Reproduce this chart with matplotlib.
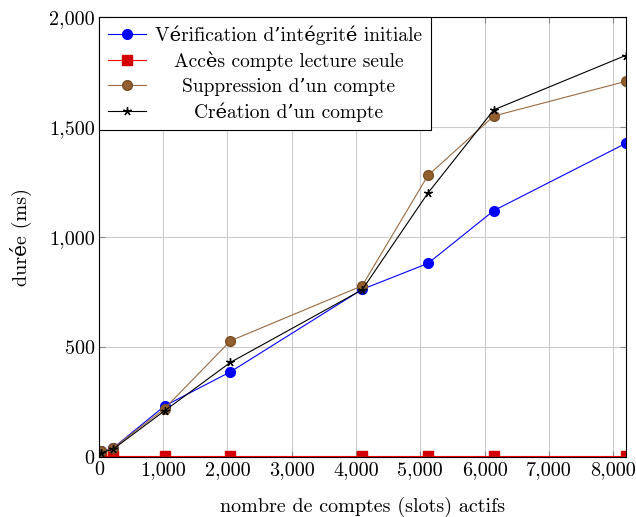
import matplotlib
matplotlib.use('Agg')
import matplotlib.pyplot as plt
from matplotlib.ticker import FuncFormatter

plt.rcParams['font.family'] = ['cmr10', 'DejaVu Serif']
plt.rcParams['axes.formatter.use_mathtext'] = True
plt.rcParams['mathtext.fontset'] = 'cm'

comptes = [32, 220, 1024, 2048, 4096, 5120, 6144, 8192]
verif = [25, 40, 232, 387, 762, 880, 1120, 1425]
lecture = [5, 5, 5, 5, 5, 5, 5, 5]
suppression = [25, 40, 220, 528, 778, 1280, 1550, 1707]
creation = [20, 35, 210, 430, 760, 1200, 1578, 1825]

noms = ["Vérification d’intégrité initiale", "Accès compte lecture seule",
        "Suppression d’un compte", "Création d’un compte"]

fig = plt.figure(figsize=(6.36, 5.17), dpi=100)
ax = fig.add_axes([0.1553, 0.1161, 0.8282, 0.8510])

ax.plot(comptes, verif, color='blue', lw=0.8, marker='o', ms=7, mfc='blue', mec='blue', label=noms[0])
ax.plot(comptes, lecture, color='red', lw=0.8, marker='s', ms=6.5, mfc='#d40000', mec='#d40000', label=noms[1])
ax.plot(comptes, suppression, color='#9a6a40', lw=0.8, marker='o', ms=7, mfc='#91602e', mec='#7a4f25', label=noms[2])
ax.plot(comptes, creation, color='black', lw=0.8, marker=(5, 2, 0), ms=6, mec='black', label=noms[3])

ax.set_xlim(0, 8192)
ax.set_ylim(0, 2000)
ax.set_xticks(range(0, 8001, 1000))
ax.set_yticks(range(0, 2001, 500))
fmt = FuncFormatter(lambda v, p: f'{int(v):,}')
ax.xaxis.set_major_formatter(fmt)
ax.yaxis.set_major_formatter(fmt)
ax.grid(True, color='#cccccc', lw=0.8)
ax.set_axisbelow(True)
ax.tick_params(direction='in', top=True, right=True, labelsize=14.5, length=4, color='#888888', pad=3)
for s in ax.spines.values():
    s.set_color('black')
    s.set_linewidth(0.8)

ax.set_xlabel('nombre de comptes (slots) actifs', fontsize=14.5, labelpad=13)
ax.set_ylabel('durée (ms)', fontsize=14.5, labelpad=12)

leg = ax.legend(loc='upper left', fontsize=14, frameon=True, fancybox=False, edgecolor='black',
                framealpha=1, borderaxespad=0, handlelength=2.0, handletextpad=0.45,
                labelspacing=0.33, borderpad=0.45)
leg.get_frame().set_linewidth(0.8)

# centrer les textes de la légende
fig.canvas.draw()
r = fig.canvas.get_renderer()
largeurs = [t.get_window_extent(r).width for t in leg.get_texts()]
wmax = max(largeurs)
for t, w in zip(leg.get_texts(), largeurs):
    t.set_position(((wmax - w) / 2, 0))

fig.savefig('out.png', dpi=100)
